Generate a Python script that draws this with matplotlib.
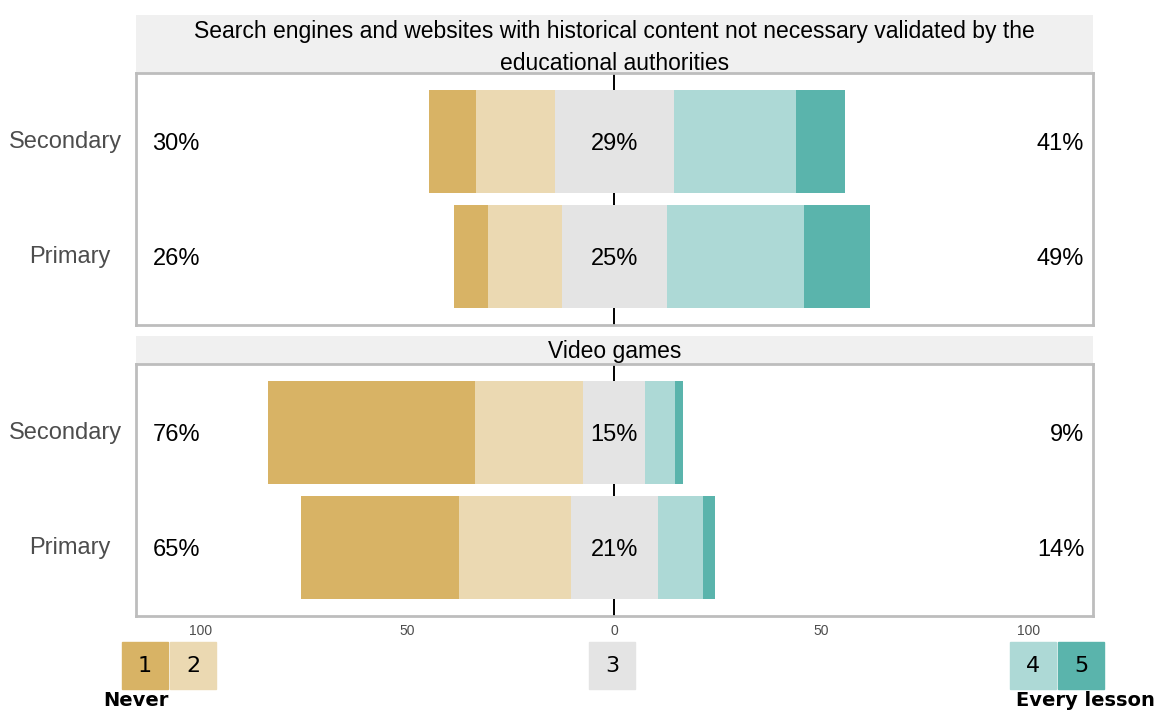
"""
Diverging likert bars: frequency of use of resource types, by school level.
"""
import matplotlib
matplotlib.use("Agg")
import matplotlib.pyplot as plt
from matplotlib.patches import Rectangle

# --- data (percent of respondents) ---
levels = ["Secondary", "Primary"]
panel_titles = [
    "Search engines and websites with historical content not necessary validated by the\neducational authorities",
    "Video games",
]

search_1 = [11.4, 8.0]
search_2 = [19.0, 17.9]
search_3 = [28.6, 25.4]
search_4 = [29.7, 33.1]
search_5 = [11.6, 15.9]

video_1 = [50.0, 38.2]
video_2 = [26.1, 27.0]
video_3 = [15.0, 21.0]
video_4 = [7.2, 10.9]
video_5 = [2.0, 2.9]

scale_labels = ["1", "2", "3", "4", "5"]
colores = ["#d8b365", "#ebd9b2", "#e4e4e4", "#add9d6", "#5ab4ac"]

tick_vals = [-100, -50, 0, 50, 100]

W, H = 1157, 710
fig = plt.figure(figsize=(W / 100, H / 100), dpi=100)
plt.rcParams["font.family"] = ["Liberation Sans", "DejaVu Sans"]


def fx(px):
    return px / W


def fy(py):
    return 1 - py / H


def dibujar_panel(ax, s1, s2, s3, s4, s5, show_ticks):
    ypos = [2, 1]  # Secondary arriba, Primary abajo
    for i, y in enumerate(ypos):
        left = -(s1[i] + s2[i] + s3[i] / 2)
        segs = [s1[i], s2[i], s3[i], s4[i], s5[i]]
        for seg, col in zip(segs, colores):
            ax.barh(y, seg, left=left, height=0.9, color=col, zorder=2, linewidth=0)
            left += seg
        low = s1[i] + s2[i]
        high = s4[i] + s5[i]
        ax.text(-111.5, y - 0.02, f"{low:.0f}%", ha="left", va="center", fontsize=17, zorder=3)
        ax.text(0, y - 0.02, f"{s3[i]:.0f}%", ha="center", va="center", fontsize=17, zorder=3)
        ax.text(113.5, y - 0.02, f"{high:.0f}%", ha="right", va="center", fontsize=17, zorder=3)
    ax.axvline(0, color="black", lw=1.4, zorder=1)
    ax.set_xlim(-115.5, 115.6)
    ax.set_ylim(0.4, 2.6)
    ax.set_yticks([])
    ax.set_xticks(tick_vals)
    if show_ticks:
        ax.set_xticklabels([str(abs(v)) for v in tick_vals], fontsize=10, color="#4d4d4d")
    else:
        ax.set_xticklabels([])
    ax.tick_params(axis="x", length=0, pad=6)
    for sp in ax.spines.values():
        sp.set_color("#bdbdbd")
        sp.set_linewidth(2)


# paneles: (strip top, strip bottom, axes bottom) en pixeles
layout = [(15, 73, 325), (336, 364, 616)]
datos = [
    (search_1, search_2, search_3, search_4, search_5),
    (video_1, video_2, video_3, video_4, video_5),
]
label_x = [65.5, 70]

for k, ((st, sb, ab), d, titulo) in enumerate(zip(layout, datos, panel_titles)):
    strip = fig.add_axes([fx(136), fy(sb), fx(1093 - 136), (sb - st) / H])
    strip.set_facecolor("#f0f0f0")
    for sp in strip.spines.values():
        sp.set_visible(False)
    strip.set_xticks([])
    strip.set_yticks([])
    ty = 0.44 if k == 0 else 0.45
    strip.text(0.5, ty, titulo, ha="center", va="center", fontsize=16.5,
               linespacing=1.5, transform=strip.transAxes)

    ax = fig.add_axes([fx(136), fy(ab), fx(1093 - 136), (ab - sb) / H])
    dibujar_panel(ax, *d, show_ticks=(k == 1))
    for lab, lx, py in zip(levels, label_x, [sb + 0.275 * (ab - sb), sb + 0.73 * (ab - sb)]):
        fig.text(fx(lx), fy(py), lab, ha="center", va="center", fontsize=17, color="#4d4d4d")

# leyenda
cajas = [122, 170, 589, 1010, 1058]
for x0, col, lab in zip(cajas, colores, scale_labels):
    fig.patches.append(Rectangle((fx(x0), fy(689)), fx(46), 47 / H, color=col,
                                 transform=fig.transFigure, figure=fig))
    fig.text(fx(x0 + 23), fy(666), lab, ha="center", va="center", fontsize=16,
             family="DejaVu Sans")
fig.text(fx(103), fy(701), "Never", ha="left", va="center", fontsize=14,
         fontweight="bold", family="DejaVu Sans")
fig.text(fx(1155), fy(701), "Every lesson", ha="right", va="center", fontsize=14,
         fontweight="bold", family="DejaVu Sans")

plt.savefig("out.png", dpi=100)
